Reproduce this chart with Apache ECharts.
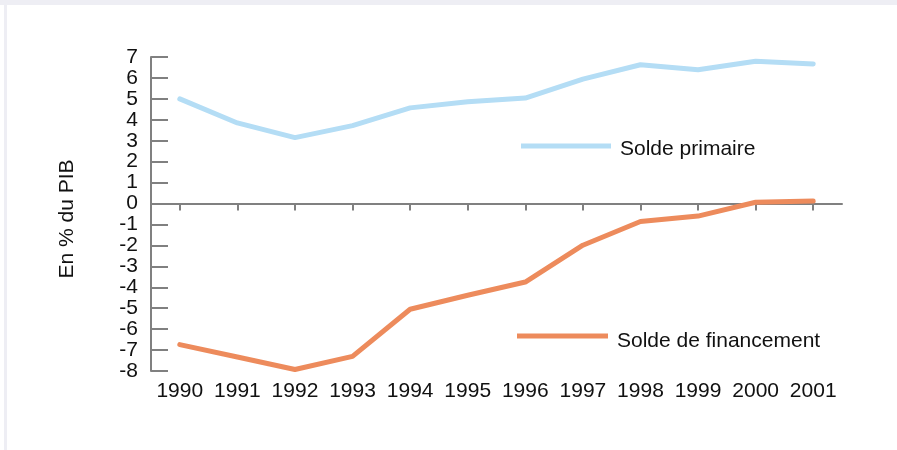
<!DOCTYPE html>
<html>
<head>
<meta charset="utf-8">
<script src="https://cdn.jsdelivr.net/npm/echarts@6/dist/echarts.min.js"></script>
<style>
html, body { margin: 0; padding: 0; background: #fff; }
#chart { position: absolute; left: 0; top: 0; width: 897px; height: 450px; }
.stripTop { position: absolute; left: 0; top: 0; width: 897px; height: 5px; background: #eeeef4; }
.stripLeft { position: absolute; left: 4px; top: 5px; width: 3px; height: 445px; background: #eeeef4; }
</style>
</head>
<body>
<div id="chart"></div>
<div class="stripTop"></div>
<div class="stripLeft"></div>
<script>
const years = ['1990', '1991', '1992', '1993', '1994', '1995', '1996', '1997', '1998', '1999', '2000', '2001'];
// solde primaire, en % du PIB
const soldePrimaire = [5.0, 3.85, 3.15, 3.72, 4.57, 4.86, 5.04, 5.94, 6.63, 6.39, 6.8, 6.67];
// solde de financement
const soldeFinancement = [-6.74, -7.33, -7.93, -7.3, -5.05, -4.38, -3.75, -1.99, -0.86, -0.6, 0.06, 0.12];

const font = 'Liberation Sans, Arial, sans-serif';

let chart = echarts.init(document.getElementById('chart'));
let option = {
    animation: false,
    textStyle: { fontFamily: font },
    grid: {
        left: 151,
        right: 55,
        top: 57,
        bottom: 79,
        outerBoundsMode: 'none'
    },
    legend: [
        {
            data: ['Solde primaire'],
            // trait en haut de l'icône, le texte est un peu plus bas
            icon: 'path://M0,0L90,0L90,5L0,5Z M0,11',
            padding: 0,
            left: 521,
            top: 137,
            itemWidth: 90,
            itemHeight: 11,
            textStyle: { fontSize: 21, lineHeight: 24, color: '#111', fontFamily: font, padding: [0, 0, 0, 4] }
        },
        {
            data: ['Solde de financement'],
            icon: 'path://M0,0L91,0L91,5L0,5Z M0,15',
            padding: 0,
            left: 517,
            top: 329,
            itemWidth: 91,
            itemHeight: 15,
            textStyle: { fontSize: 21, lineHeight: 24, color: '#111', fontFamily: font, padding: [0, 0, 0, 4] }
        }
    ],
    xAxis: [
        {
            // labels en bas
            type: 'category',
            data: years,
            position: 'bottom',
            axisLine: { show: false, onZero: false },
            axisTick: { show: false },
            axisLabel: { fontSize: 21, color: '#111', margin: 10, interval: 0 }
        },
        {
            // ligne du zéro
            type: 'category',
            data: years,
            position: 'top',
            axisLine: { show: true, onZero: true, lineStyle: { color: '#808080', width: 2 } },
            axisTick: { show: true, inside: true, length: 7, alignWithLabel: true, lineStyle: { color: '#808080', width: 2 } },
            axisLabel: { show: false }
        }
    ],
    yAxis: {
        type: 'value',
        min: -8,
        max: 7,
        interval: 1,
        name: 'En % du PIB',
        nameLocation: 'middle',
        nameGap: 73,
        nameRotate: 90,
        nameTextStyle: { fontSize: 21, color: '#111', padding: [0, 10, 0, 0] },
        axisLine: { show: true, lineStyle: { color: '#808080', width: 2 } },
        axisTick: { show: true, inside: true, length: 17, lineStyle: { color: '#808080', width: 2 } },
        axisLabel: { fontSize: 21, color: '#111', margin: 13 },
        splitLine: { show: false }
    },
    series: [
        {
            name: 'Solde primaire',
            type: 'line',
            xAxisIndex: 0,
            data: soldePrimaire,
            symbol: 'none',
            color: '#b4ddf5',
            lineStyle: { width: 5, color: '#b4ddf5', cap: 'round' }
        },
        {
            name: 'Solde de financement',
            type: 'line',
            xAxisIndex: 0,
            data: soldeFinancement,
            symbol: 'none',
            color: '#ed8b5c',
            lineStyle: { width: 5, color: '#ed8b5c', cap: 'round' }
        }
    ]
};
chart.setOption(option);
</script>
</body>
</html>
